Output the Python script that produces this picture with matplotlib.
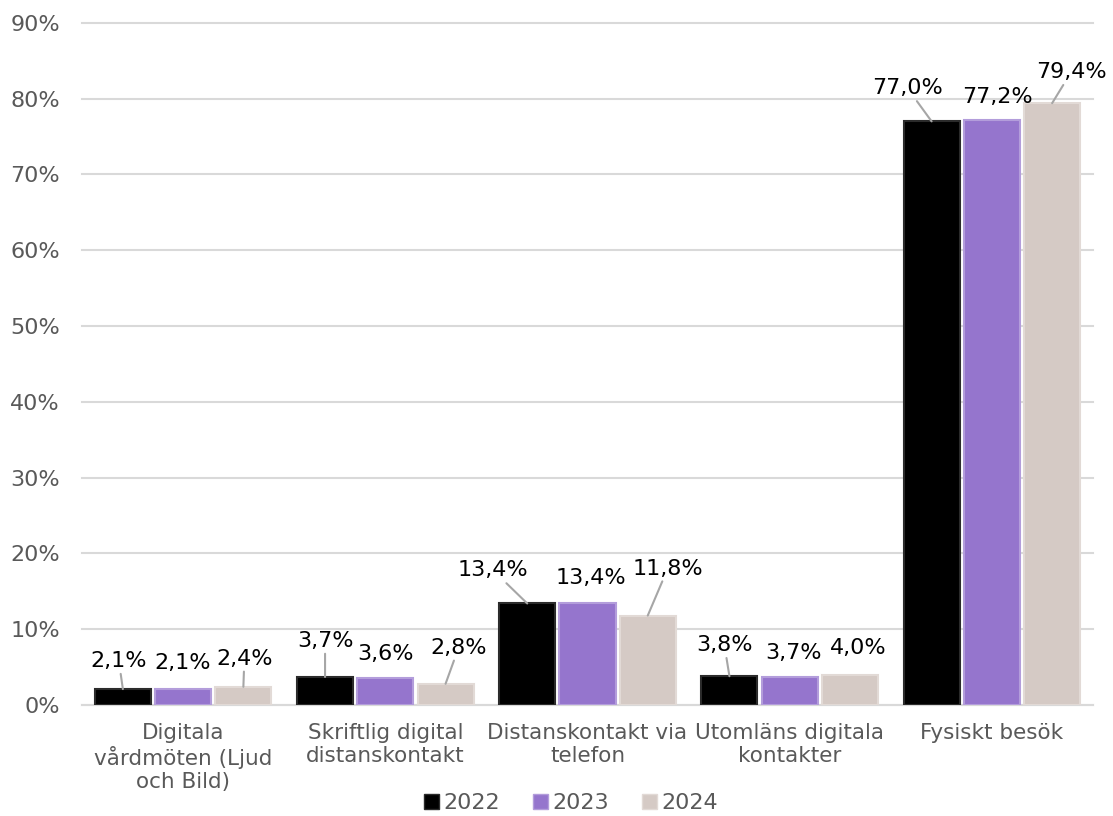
import numpy as np
import matplotlib.pyplot as plt
from matplotlib.patches import Patch

# =========================================================
# DATA
# =========================================================
categories = [
    "Digitala\nvårdmöten (Ljud\noch Bild)",
    "Skriftlig digital\ndistanskontakt",
    "Distanskontakt via\ntelefon",
    "Utomläns digitala\nkontakter",
    "Fysiskt besök",
]
years = ["2022", "2023", "2024"]
values_2022 = [2.1, 3.7, 13.4, 3.8, 77.0]
values_2023 = [2.1, 3.6, 13.4, 3.7, 77.2]
values_2024 = [2.4, 2.8, 11.8, 4.0, 79.4]
y_ticks = [0, 10, 20, 30, 40, 50, 60, 70, 80, 90]

# =========================================================
# STYLE / LAYOUT
# =========================================================
colors = ["#000000", "#9575CD", "#D5CAC5"]
edges = ["#2b2b2b", "#B39DDB", "#E2DAD6"]
text_gray = "#595959"
grid_gray = "#D9D9D9"
leader_gray = "#A6A6A6"

# label offsets in pixels (dx, dy) from bar top, and whether a leader line is drawn
label_offsets = [
    [(-4, 28, True), (0, 26, False), (1, 28, True)],
    [(0, 36, True), (0, 24, False), (13, 36, True)],
    [(-34, 33, True), (3, 25, False), (20, 47, True)],
    [(-5, 31, True), (4, 24, False), (8, 27, False)],
    [(-24, 33, True), (6, 23, False), (19, 31, True)],
]

plt.rcParams["font.family"] = ["DejaVu Sans"]

fig = plt.figure(figsize=(11.13, 8.16), dpi=100)
ax = fig.add_axes([0.0737, 0.136, 0.9083, 0.836])

x = np.arange(len(categories))
step = 0.298
width = 0.277
series = [values_2022, values_2023, values_2024]

for i, vals in enumerate(series):
    xpos = x + (i - 1) * step
    ax.bar(xpos, vals, width=width, color=colors[i], edgecolor=edges[i],
           linewidth=1.5, zorder=3, label=years[i])
    for j, v in enumerate(vals):
        dx, dy, leader = label_offsets[j][i]
        label = f"{v:.1f}%".replace(".", ",")
        kw = {}
        if leader:
            kw["arrowprops"] = dict(arrowstyle="-", color=leader_gray, lw=1.5,
                                    shrinkA=0, shrinkB=0)
        ax.annotate(label, xy=(xpos[j], v), xytext=(dx, dy),
                    textcoords="offset pixels", ha="center", va="center",
                    fontsize=16, color="black", zorder=5, **kw)

ax.set_xlim(-0.5, len(categories) - 0.5)
ax.set_ylim(0, 90)
ax.set_yticks(y_ticks)
ax.set_yticklabels([f"{t}%" for t in y_ticks])
ax.set_xticks(x)
ax.set_xticklabels(categories, fontsize=15.5, color=text_gray, linespacing=1.18)
ax.tick_params(axis="y", length=0, pad=16, labelsize=16, labelcolor=text_gray)
ax.tick_params(axis="x", length=0, pad=13)

ax.yaxis.grid(True, color=grid_gray, linewidth=1.5, zorder=0)
for gl in ax.get_ygridlines():
    gl.set_clip_on(False)
ax.set_axisbelow(True)
for side in ["top", "right", "left"]:
    ax.spines[side].set_visible(False)
ax.spines["bottom"].set_color(grid_gray)
ax.spines["bottom"].set_linewidth(1.5)

handles = [Patch(facecolor=colors[i], edgecolor=edges[i]) for i in range(3)]
fig.legend(handles, years, loc="lower center", bbox_to_anchor=(0.513, -0.021),
           ncol=3, frameon=False, fontsize=16, handlelength=0.65,
           handleheight=0.65, handletextpad=0.2, columnspacing=1.5,
           labelcolor=text_gray)

fig.savefig("out.png", dpi=100)
